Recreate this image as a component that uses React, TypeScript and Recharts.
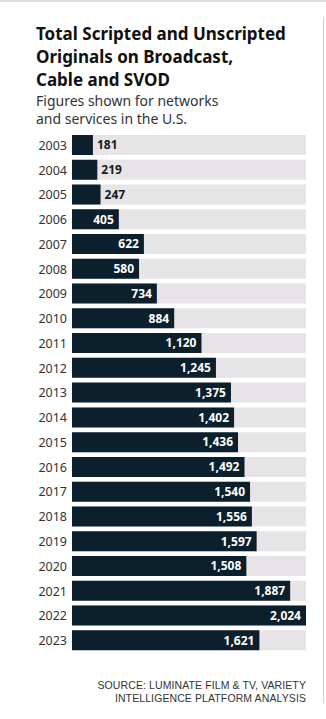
import { BarChart, Bar, XAxis, YAxis, LabelList } from "recharts";

// Anos e totais de originais
const ANOS = ["2003", "2004", "2005", "2006", "2007", "2008", "2009", "2010", "2011", "2012", "2013",
  "2014", "2015", "2016", "2017", "2018", "2019", "2020", "2021", "2022", "2023"];
const TOTAIS = [181, 219, 247, 405, 622, 580, 734, 884, 1120, 1245, 1375,
  1402, 1436, 1492, 1540, 1556, 1597, 1508, 1887, 2024, 1621];

const dados = ANOS.map((ano, i) => ({ ano, total: TOTAIS[i] }));

const COR_BARRA = "#0c1f2c";
const COR_FUNDO = "#e6e4e6";
const FONTE = "'Noto Sans', sans-serif";
const FONTE_FONTE = "'Liberation Sans', sans-serif";

// Rótulo dentro da barra (branco) ou fora (escuro) quando a barra é curta
const Rotulo = (props: any) => {
  const { x, y, width, height, value } = props;
  const texto = Number(value).toLocaleString("en-US");
  const dentro = width > 40;
  return (
    <text
      x={dentro ? x + width - 5 : x + width + 4}
      y={y + height / 2}
      dy="0.36em"
      textAnchor={dentro ? "end" : "start"}
      fill={dentro ? "#ffffff" : "#1a1a1a"}
      fontSize={12}
      fontWeight={700}
      fontFamily={FONTE}
    >
      {texto}
    </text>
  );
};

const estiloFonte = {
  position: "absolute" as const,
  right: 20,
  textAlign: "right" as const,
  fontSize: 10.5,
  lineHeight: "12px",
  color: "#333",
  letterSpacing: "0.1px",
  whiteSpace: "nowrap" as const,
  fontFamily: FONTE_FONTE,
};

export default function App() {
  return (
    <div style={{ position: "absolute", top: 0, left: 0, width: 326, height: 719, background: "#fff", fontFamily: FONTE }}>
      <div style={{ position: "absolute", top: 0, left: 0, width: 326, height: 2, background: "#dcdcdc" }} />
      <div style={{ position: "absolute", top: 18, left: 323, width: 1, height: 685, background: "#cfcfcf" }} />

      <div style={{ position: "absolute", top: 22, left: 36, fontSize: 17, fontWeight: 700, lineHeight: "23px", color: "#111" }}>
        Total Scripted and Unscripted<br />Originals on Broadcast,<br />Cable and SVOD
      </div>
      <div style={{ position: "absolute", top: 92, left: 36, fontSize: 14, lineHeight: "18px", color: "#333" }}>
        Figures shown for networks<br />and services in the U.S.
      </div>

      <div style={{ position: "absolute", top: 133, left: 0 }}>
        <BarChart
          width={326}
          height={520}
          data={dados}
          layout="vertical"
          margin={{ top: 0, right: 20, bottom: 0, left: 0 }}
        >
          <XAxis type="number" hide domain={[0, 2024]} />
          <YAxis
            type="category"
            dataKey="ano"
            width={72}
            axisLine={false}
            tickLine={false}
            tickSize={0}
            tickMargin={5}
            tick={{ fill: "#333", fontSize: 12.5, fontFamily: FONTE }}
            interval={0}
          />
          <Bar
            dataKey="total"
            fill={COR_BARRA}
            barSize={20}
            background={{ fill: COR_FUNDO }}
            isAnimationActive={false}
          >
            <LabelList dataKey="total" content={<Rotulo />} />
          </Bar>
        </BarChart>
      </div>

      <div style={{ ...estiloFonte, top: 679 }}>SOURCE: LUMINATE FILM &amp; TV, VARIETY</div>
      <div style={{ ...estiloFonte, top: 691.5 }}>INTELLIGENCE PLATFORM ANALYSIS</div>
    </div>
  );
}
